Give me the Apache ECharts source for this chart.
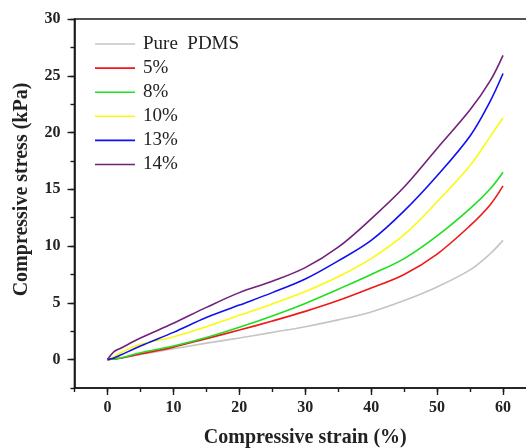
<!DOCTYPE html>
<html>
<head>
<meta charset="utf-8">
<script src="https://cdn.jsdelivr.net/npm/echarts@6/dist/echarts.min.js"></script>
<style>html,body{margin:0;padding:0;background:#fff}#c{width:526px;height:448px}</style>
</head>
<body>
<div id="c"></div>
<script>
const strain = [0, 1, 2, 5, 10, 15, 20, 25, 30, 35, 40, 45, 50, 55, 58, 60];
const seriesNames = ['Pure  PDMS', '5%', '8%', '10%', '13%', '14%'];
const purePDMS = [0, 0.05, 0.15, 0.45, 0.95, 1.45, 1.9, 2.4, 2.9, 3.5, 4.2, 5.2, 6.4, 7.9, 9.3, 10.5];
const pct5  = [0, 0.05, 0.12, 0.5, 1.1, 1.85, 2.6, 3.4, 4.25, 5.2, 6.3, 7.5, 9.3, 11.8, 13.6, 15.3];
const pct8  = [0, 0.05, 0.15, 0.6, 1.2, 1.95, 2.85, 3.85, 4.95, 6.2, 7.5, 8.9, 10.9, 13.3, 15.0, 16.5];
const pct10 = [0, 0.25, 0.6, 1.35, 2.0, 2.9, 3.9, 4.9, 6.0, 7.3, 8.9, 11.0, 13.9, 17.1, 19.6, 21.3];
const pct13 = [0, 0.15, 0.4, 1.2, 2.4, 3.7, 4.8, 5.9, 7.1, 8.7, 10.5, 13.1, 16.2, 19.7, 22.7, 25.2];
const pct14 = [0, 0.7, 1.0, 1.9, 3.2, 4.6, 5.9, 6.9, 8.1, 9.9, 12.4, 15.2, 18.6, 22.0, 24.5, 26.8];
const xMajorTicks = [0, 10, 20, 30, 40, 50, 60];
const yMajorTicks = [0, 5, 10, 15, 20, 25, 30];

const values = [purePDMS, pct5, pct8, pct10, pct13, pct14];
const colors = ['#c4c4c4', '#f01818', '#1ee01e', '#fafa10', '#1010f0', '#72207a'];
const serif = '"Liberation Serif", "Times New Roman", serif';
const axisColor = '#1a1a1a';

const chart = echarts.init(document.getElementById('c'), null, {renderer: 'canvas'});
const series = values.map((v, i) => ({
  name: seriesNames[i],
  type: 'line',
  data: strain.map((x, j) => [x, v[j]]),
  showSymbol: false,
  symbol: 'none',
  smooth: 0.35,
  lineStyle: {color: colors[i], width: 1.6},
  itemStyle: {color: colors[i]},
  z: 2 + i
}));

chart.setOption({
  animation: false,
  backgroundColor: '#fff',
  grid: {left: 74.5, right: -10, top: 19, bottom: 60, show: true, borderColor: axisColor, borderWidth: 1.6,
    backgroundColor: 'transparent', outerBoundsMode: 'none', containLabel: false},
  legend: {
    orient: 'vertical', left: 90, top: 29.5,
    itemWidth: 40, itemHeight: 14, itemGap: 5.1,
    data: seriesNames.map(n => ({name: n, icon: 'path://M0,0 L40,0 L40,1.6 L0,1.6 Z'})),
    textStyle: {fontFamily: serif, fontSize: 19, color: '#222', padding: [0, 0, 0, 3]}
  },
  xAxis: [{
    type: 'value', min: -5, max: 65, interval: 5, position: 'bottom',
    axisLine: {show: true, onZero: false, lineStyle: {color: axisColor, width: 1.6}},
    axisTick: {show: true, inside: false, length: 4, lineStyle: {color: axisColor, width: 1.4}},
    axisLabel: {margin: 12, fontFamily: serif, fontWeight: 'bold', fontSize: 16, color: '#222',
      formatter: v => (v >= 0 && v <= 60 && Math.abs(v % 10) < 1e-6) ? String(v) : ''},
    splitLine: {show: false},
    name: 'Compressive strain (%)', nameLocation: 'middle', nameGap: 40,
    nameTextStyle: {fontFamily: serif, fontWeight: 'bold', fontSize: 20, color: '#222'}
  }, {
    type: 'value', min: -5, max: 65, position: 'bottom',
    axisLine: {show: false, onZero: false},
    axisTick: {show: true, inside: false, length: 7, customValues: xMajorTicks, lineStyle: {color: axisColor, width: 1.4}},
    axisLabel: {show: false},
    splitLine: {show: false}
  }],
  yAxis: [{
    type: 'value', min: -2.5, max: 30, interval: 2.5, position: 'left',
    axisLine: {show: true, onZero: false, lineStyle: {color: axisColor, width: 1.6}},
    axisTick: {show: true, inside: false, length: 4, lineStyle: {color: axisColor, width: 1.4}},
    axisLabel: {margin: 14, fontFamily: serif, fontWeight: 'bold', fontSize: 16, color: '#222',
      formatter: v => (v >= 0 && Math.abs(v % 5) < 1e-6) ? String(v) : ''},
    splitLine: {show: false},
    name: 'Compressive stress (kPa)', nameLocation: 'middle', nameGap: 43, nameRotate: 90,
    nameTextStyle: {fontFamily: serif, fontWeight: 'bold', fontSize: 20, color: '#222', padding: [0, 0, 0, 28]}
  }, {
    type: 'value', min: -2.5, max: 30, position: 'left',
    axisLine: {show: false, onZero: false},
    axisTick: {show: true, inside: false, length: 7, customValues: yMajorTicks, lineStyle: {color: axisColor, width: 1.4}},
    axisLabel: {show: false},
    splitLine: {show: false}
  }],
  series: series
});
</script>
</body>
</html>
